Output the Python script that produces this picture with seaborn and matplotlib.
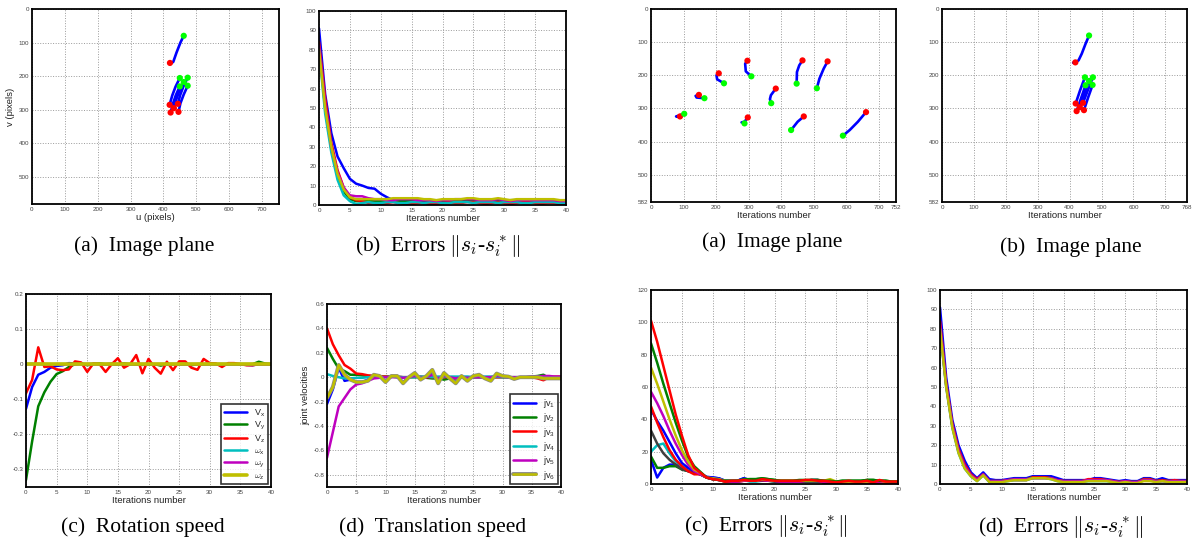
import matplotlib
matplotlib.use("Agg")
import matplotlib.pyplot as plt
import matplotlib.patheffects as pe
import seaborn as sns

sns.set_theme(style="whitegrid")
plt.rcParams["font.family"] = ["Liberation Sans", "DejaVu Sans"]
plt.rcParams["mathtext.fontset"] = "cm"

# MATLAB default line colours
C_B, C_G, C_R = "#0000ff", "#008000", "#ff0000"
C_C, C_M, C_Y, C_K = "#00bfbf", "#bf00bf", "#bfbf00", "#404040"

iters = list(range(41))

# ---- image plane, left experiment (u, v per feature) ----
a1_traj_u = [[462, 452, 440, 430, 422], [450, 437, 427, 419], [474, 461, 451, 444],
             [462, 449, 439, 432], [450, 438, 429, 422], [474, 462, 452, 446]]
a1_traj_v = [[80, 100, 130, 158, 162], [206, 232, 258, 286], [205, 231, 257, 283],
             [218, 244, 270, 296], [231, 257, 283, 309], [229, 255, 281, 307]]
a1_green_u = [462, 450, 474, 462, 450, 474]
a1_green_v = [80, 206, 205, 218, 231, 229]
a1_red_u = [420, 419, 444, 432, 422, 446]
a1_red_v = [161, 286, 283, 296, 309, 307]

# ---- errors (b), left experiment ----
eb_blue = [91, 57, 37, 25, 19, 13.5, 11, 10, 8.8, 8.4, 5.8, 4, 2.5, 2.5, 2.5, 2.5, 2.5, 2, 2, 2, 2,
           2, 2, 2.5, 2.5, 2.5, 2, 2, 2, 2.5, 2, 2, 2, 2, 2, 2, 2, 2, 1.5, 1.5, 1.5]
eb_green = [82, 50, 29, 15, 7, 3, 2, 2, 2, 2, 2, 2, 2.5, 2, 2, 2, 2, 2.5, 2, 1.5, 2,
            2, 2, 2, 2.5, 2.5, 2, 2, 2, 2, 2, 2.5, 2.5, 2.5, 2.5, 2, 2, 2, 2, 2, 2]
eb_red = [84, 55, 32, 18, 9, 4, 2.5, 2, 1, 1, 0.5, 1, 1.5, 1, 0.5, 0.5, 1, 1, 0.5, 0.5, 1,
          1.5, 1, 1, 1.5, 1.5, 1, 0.5, 1, 1.5, 1, 0.5, 1, 1.5, 1.5, 1, 0.5, 1, 1, 0.5, 0.5]
eb_cyan = [80, 47, 27, 13, 5, 2, 0.5, 1, 1.5, 1, 1, 1.5, 1.5, 1, 1, 1.5, 1.5, 1, 1.5, 1.5, 1,
           1, 1.5, 1.5, 1.5, 1, 1.5, 1.5, 1.5, 1, 1.5, 1.5, 1.5, 1, 1, 1.5, 1.5, 1.5, 1.5, 1, 1]
eb_mag = [82, 52, 30, 17, 9, 5, 4.5, 4.5, 3.5, 3, 3, 2.5, 2.5, 3, 3, 3, 2.5, 2.5, 2.5, 2, 2.5,
          2.5, 3, 3, 3, 3, 2.5, 2.5, 2.5, 3, 2.5, 2, 2.5, 2.5, 2.5, 2.5, 2.5, 2.5, 2.5, 2, 2]
eb_yellow = [80, 50, 30, 16, 8, 4, 3, 3, 3, 3, 3, 3, 3.5, 3.5, 3.5, 3.5, 3.5, 3, 3, 2.5, 3,
             3, 3, 3, 3.5, 3.5, 3, 3, 3, 3.5, 3, 2.5, 3, 3, 3, 3, 3, 3, 3, 2.5, 2.5]

# ---- rotation speed (c) ----
v_x = [-0.127, -0.065, -0.03, -0.022, -0.01, -0.005, -0.003, 0.003, 0.002, 0.001, 0.0, 0.001, 0.0, 0.0,
       0.001, 0.0, 0.0, 0.0, 0.0, 0.0, 0.0, 0.0, 0.0, 0.0, 0.0, 0.0, 0.0, 0.0, 0.0, 0.0, 0.0, 0.0,
       0.0, 0.0, 0.0, 0.0, -0.002, -0.003, 0.0, 0.0, 0.0]
v_y = [-0.33, -0.22, -0.12, -0.08, -0.05, -0.028, -0.02, -0.008, 0.0, 0.002, -0.003, 0.0, 0.002, 0.0,
       0.0, 0.0, 0.002, 0.0, 0.0, -0.002, 0.0, 0.0, -0.004, 0.0, 0.0, 0.0, 0.0, -0.003, 0.0, 0.0,
       0.002, 0.0, 0.0, 0.0, 0.0, 0.0, 0.0, 0.0, 0.007, 0.002, 0.0]
v_z = [-0.083, -0.045, 0.048, -0.008, -0.006, -0.015, -0.017, -0.015, 0.008, 0.005, -0.022, 0.002, 0.0,
       -0.022, 0.0, 0.017, -0.01, 0.0, 0.026, -0.026, 0.015, -0.01, -0.027, 0.007, -0.017, 0.008, 0.008,
       -0.01, -0.016, 0.015, 0.003, 0.002, -0.008, 0.003, 0.003, 0.0, -0.003, -0.003, 0.0, 0.0, 0.0]
w_x = [0.001, 0.001, 0.0, 0.0, 0.0, 0.0, 0.0, 0.0, 0.0, 0.0, 0.0, 0.0, 0.0, 0.0, 0.0, 0.0, 0.0, 0.0, 0.0,
       0.0, 0.0, 0.0, 0.0, 0.0, 0.0, 0.0, 0.0, 0.0, 0.0, 0.0, 0.0, 0.0, 0.0, 0.0, 0.0, 0.0, 0.0, 0.0,
       0.0, 0.0, 0.0]
w_y = [0.0, 0.0, 0.001, 0.0, 0.0, 0.0, 0.0, 0.0, 0.0, 0.0, 0.0, 0.0, 0.0, 0.0, 0.0, 0.0, 0.0, 0.0, 0.0,
       0.0, 0.0, 0.0, 0.0, 0.0, 0.0, 0.0, 0.0, 0.0, 0.0, 0.0, 0.0, 0.0, 0.0, 0.0, 0.0, 0.0, 0.0, 0.0,
       0.0, 0.0, 0.0]
w_z = [0.0, 0.0, 0.0, 0.0, 0.0, 0.0, 0.0, 0.0, 0.0, 0.0, 0.0, 0.0, 0.0, 0.0, 0.0, 0.0, 0.0, 0.0, 0.0,
       0.0, 0.0, 0.0, 0.0, 0.0, 0.0, 0.0, 0.0, 0.0, 0.0, 0.0, 0.0, 0.0, 0.0, 0.0, 0.0, 0.0, 0.0, 0.0,
       0.0, 0.0, 0.0]

# ---- joint velocities (d) ----
jv1 = [-0.22, -0.1, 0.08, -0.03, -0.02, -0.04, -0.04, -0.02, 0.015, 0.005, -0.03, 0.005, 0.005, -0.04,
       0.0, 0.025, -0.015, 0.005, 0.045, -0.04, 0.025, -0.005, -0.04, 0.005, -0.02, 0.005, 0.015, -0.005,
       -0.02, 0.02, 0.005, 0.005, -0.01, 0.0, 0.0, 0.0, 0.0, -0.005, -0.005, -0.005, -0.005]
jv2 = [0.24, 0.15, 0.07, 0.05, 0.02, 0.02, 0.015, 0.01, 0.01, 0.005, 0.005, 0.005, 0.0, 0.0, 0.0, 0.0,
       0.0, -0.005, -0.01, -0.01, -0.02, -0.01, -0.01, 0.0, 0.0, 0.0, 0.0, 0.0, 0.0, 0.0, 0.0, 0.0, 0.0,
       0.0, 0.0, 0.005, 0.01, 0.02, -0.01, -0.01, -0.01]
jv3 = [0.4, 0.27, 0.18, 0.1, 0.07, 0.03, 0.025, 0.015, 0.01, 0.005, 0.005, 0.005, 0.005, 0.0, 0.0, 0.005,
       0.005, 0.0, 0.0, 0.0, 0.0, 0.0, 0.0, 0.0, 0.0, 0.0, 0.0, 0.0, 0.0, 0.0, 0.0, 0.0, 0.0, 0.0, 0.0,
       0.0, -0.01, -0.025, 0.0, 0.005, 0.005]
jv4 = [0.025, 0.01, 0.0, -0.01, -0.01, -0.005, -0.005, 0.0, 0.0, 0.0, 0.0, 0.005, 0.005, 0.0, 0.0, 0.0,
       0.005, 0.005, 0.0, 0.005, 0.005, 0.005, 0.005, 0.005, 0.005, 0.0, 0.0, 0.005, 0.005, 0.005, 0.0,
       0.0, 0.0, 0.0, 0.0, 0.0, 0.0, 0.0, 0.0, 0.0, 0.0]
jv5 = [-0.66, -0.45, -0.24, -0.17, -0.1, -0.06, -0.05, -0.03, -0.01, -0.005, 0.0, 0.0, 0.0, -0.005, 0.0,
       0.01, -0.005, 0.0, 0.02, -0.01, 0.01, 0.0, -0.01, 0.0, -0.005, 0.0, 0.0, 0.0, 0.0, 0.01, 0.005,
       0.0, 0.0, 0.0, 0.0, 0.005, 0.005, 0.01, 0.01, 0.005, 0.005]
jv6 = [-0.17, -0.08, 0.1, 0.02, -0.02, -0.04, -0.04, -0.03, 0.02, 0.01, -0.04, 0.01, 0.01, -0.05, 0.0,
       0.035, -0.02, 0.01, 0.06, -0.05, 0.035, -0.01, -0.05, 0.01, -0.03, 0.01, 0.02, -0.01, -0.03, 0.03,
       0.01, 0.005, -0.015, 0.0, 0.0, 0.0, 0.0, -0.01, -0.01, -0.01, -0.01]

# ---- image plane, right experiment (a) ----
a3_traj_u = [[89, 82, 77, 90, 102], [147, 137, 140, 164], [208, 201, 203, 224], [296, 289, 291, 308],
             [383, 368, 365, 369], [297, 287, 278, 287], [465, 455, 448, 447], [542, 530, 517, 509],
             [469, 450, 430], [660, 635, 610, 589]]
a3_traj_v = [[324, 325, 324, 320, 316], [259, 262, 267, 269], [194, 200, 212, 224], [156, 165, 188, 203],
             [240, 260, 272, 284], [327, 335, 342, 345], [155, 170, 190, 225], [158, 180, 210, 239],
             [324, 340, 365], [311, 340, 365, 382]]
a3_red_u = [89, 147, 208, 296, 383, 297, 465, 542, 469, 660]
a3_red_v = [324, 259, 194, 156, 240, 327, 155, 158, 324, 311]
a3_green_u = [102, 164, 224, 308, 369, 287, 447, 509, 430, 589]
a3_green_v = [316, 269, 224, 203, 284, 345, 225, 239, 365, 382]

# ---- image plane, right experiment (b) ----
a4_traj_u = [[461, 450, 438, 428, 418, 411], [448, 433, 419], [473, 457, 442],
             [461, 446, 432, 433], [450, 436, 422], [472, 458, 445, 447]]
a4_traj_v = [[80, 105, 135, 155, 161, 162], [206, 245, 285], [206, 245, 283],
             [217, 256, 296, 299], [230, 269, 308], [229, 267, 305, 308]]
a4_green_u = [461, 448, 473, 461, 450, 472]
a4_green_v = [80, 206, 206, 217, 230, 229]
a4_red_u = [418, 419, 442, 432, 422, 445]
a4_red_v = [161, 285, 283, 296, 308, 305]

# ---- errors (c), right experiment ----
ec_blue2 = [15, 4, 10, 12, 12, 10, 8, 7, 6, 4, 4, 3.5, 2, 2, 2, 3.5, 2.5, 2.5, 3, 2.5, 2, 1.5, 1.5, 1.5,
            1.5, 2, 2.5, 2.5, 1, 0.5, 1, 1.5, 1.5, 1.5, 1.5, 1.5, 1.5, 1.5, 1.5, 1, 1]
ec_green2 = [17, 10, 10, 11, 11, 9, 8, 7, 6, 4, 3, 2.5, 1.5, 1.5, 2, 2.5, 3, 3, 3.5, 3, 2.5, 2, 2, 2, 2,
             2, 2.5, 2.5, 2, 2, 1.5, 2, 2, 2, 2, 2.5, 2.5, 2, 2, 1.5, 1.5]
ec_cyan = [20, 24, 25, 19, 14, 11, 9, 8, 6, 4, 3, 2.5, 1.5, 1.5, 1.5, 2.5, 1.5, 1.5, 2, 2, 1.5, 1.5, 1.5,
           1.5, 1.5, 1.5, 1.5, 1.5, 1, 1, 1, 1, 1, 1, 1, 1, 1, 1, 1, 1, 1]
ec_grey = [33, 25, 19, 15, 12, 9, 8, 7, 6, 4, 3, 2.5, 2, 1.5, 1.5, 2, 2, 2, 2, 2, 1.5, 1.5, 1.5, 1.5, 1.5,
           1.5, 1.5, 1.5, 1.5, 1, 1, 1, 1, 1, 1, 1, 1, 1, 1, 1, 1]
ec_blue1 = [46, 39, 33, 26, 19, 13, 10, 8, 6.5, 4.5, 4, 3.5, 2, 2, 2, 3.5, 2.5, 2.5, 3, 2.5, 2, 1.5, 1.5,
            1.5, 1.5, 2, 2, 2, 1, 1, 1.5, 1.5, 1.5, 1.5, 1.5, 1.5, 1.5, 1.5, 1.5, 1, 1]
ec_red2 = [48, 38, 29, 21, 15, 11, 8, 6, 6, 4, 3, 2.5, 1.5, 1.5, 1.5, 2, 2, 2, 2.5, 2, 2, 1.5, 1.5, 1.5,
           1.5, 2, 2, 2, 1, 1, 1, 1, 1, 1, 1, 1, 1, 1, 1, 1, 1]
ec_mag = [57, 50, 42, 33, 25, 18, 12, 8, 6, 4, 3, 2.5, 2, 1.5, 1.5, 2, 2, 2, 2.5, 2, 2, 1.5, 1.5, 1.5, 1.5,
          2, 2, 2, 1.5, 1.5, 1, 1.5, 1.5, 1.5, 1.5, 1.5, 1.5, 1.5, 1.5, 1, 1]
ec_yellow = [72, 62, 51, 40, 30, 21, 14, 9, 7, 4, 3.5, 3, 2, 2, 2, 2.5, 2.5, 2, 3, 2.5, 2, 2, 2, 2, 2, 2,
             2, 2, 2, 3, 1.5, 1.5, 1.5, 1.5, 1.5, 1.5, 2, 2, 1.5, 1.5, 1.5]
ec_green1 = [87, 75, 62, 50, 38, 27, 17, 11, 7.5, 4, 3, 2.5, 2, 2, 2, 3, 3, 3, 3.5, 3, 2.5, 2, 2, 2, 2.5,
             2.5, 2.5, 2.5, 2, 2, 1.5, 2, 2, 2, 2, 2.5, 2.5, 2, 2, 1.5, 1.5]
ec_red1 = [101, 88, 73, 58, 43, 30, 18, 10, 7, 4, 3, 2.5, 1.5, 2, 2, 2.5, 2, 2, 3, 2.5, 2, 2, 2, 2, 2,
           2.5, 2.5, 2, 2, 1.5, 1, 1.5, 2, 1.5, 1.5, 2, 1, 2.5, 1.5, 1.5, 1.5]

# ---- errors (d), right experiment ----
ed_blue = [91, 55, 33, 20, 12, 6, 3, 6, 2.5, 2, 2, 2.5, 3, 3, 3, 4, 4, 4, 4, 3, 2, 2, 2, 2, 2, 3, 3, 2.5,
           2, 1.5, 2, 1.5, 1.5, 3, 3, 2, 3, 2, 2, 2, 2]
ed_green = [81, 51, 30, 17, 9, 4.5, 2, 5, 1.5, 1.5, 1.5, 2, 2.5, 2.5, 2.5, 3.5, 3.5, 3.5, 3, 2, 1.5, 1.5,
            1.5, 1.5, 2, 2, 2, 2, 1.5, 1, 1.5, 1, 1, 2.5, 2.5, 1.5, 2, 1.5, 1.5, 1.5, 1.5]
ed_red = [84, 52, 31, 18, 10, 5, 2.5, 5, 1.5, 1.5, 1.5, 2, 2, 2, 2, 3.5, 3.5, 3.5, 3, 2, 1.5, 1.5, 1.5,
          1.5, 2.5, 2.5, 2.5, 2, 1.5, 1, 1.5, 1, 1, 2.5, 2.5, 1.5, 2, 1.5, 2, 1.5, 1.5]
ed_cyan = [80, 50, 29, 16, 8, 4, 1.5, 4.5, 1, 1, 1, 1.5, 2, 2, 2, 3, 3, 3, 2.5, 1.5, 1, 1, 1, 1, 1.5, 1.5,
           1.5, 1.5, 1, 0.5, 1, 0.5, 0.5, 2, 2, 1, 1.5, 1, 1, 1, 1]
ed_mag = [82, 51, 30, 17, 9, 4.5, 2, 5, 1.5, 1.5, 1.5, 2, 2.5, 2.5, 2.5, 3, 3, 3, 3, 2, 1.5, 1.5, 1.5, 1.5,
          2, 2, 2, 2, 1.5, 1, 1.5, 1, 1, 2, 2, 1.5, 1.5, 1.5, 1.5, 1.5, 1.5]
ed_yellow = [80, 50, 29, 16, 8, 4, 1.5, 4.5, 1, 1, 1, 1.5, 2, 2, 2, 3, 3, 3, 2.5, 1.5, 1, 1, 1, 1, 1.5,
             1.5, 1.5, 1.5, 1, 0.5, 1, 0.5, 0.5, 1.5, 1.5, 1, 1.5, 1, 1, 1, 1]

W, H = 1192, 545
fig = plt.figure(figsize=(W / 100, H / 100), dpi=100)


def make_ax(l, t, r, b):
    ax = fig.add_axes([l / W, 1 - b / H, (r - l) / W, (b - t) / H])
    ax.set_facecolor("white")
    ax.grid(True, linestyle=":", color="#9a9a9a", linewidth=0.7)
    for s in ax.spines.values():
        s.set_color("black")
        s.set_linewidth(1.3)
    ax.tick_params(direction="in", length=2.5, width=0.6, labelsize=4.5,
                   pad=2, colors="black")
    ax.tick_params(labelcolor="#444444")
    return ax


def image_plane(ax, tu, tv, gu, gv, ru, rv, xmax, xticks, yticks):
    for u, v in zip(tu, tv):
        sns.lineplot(x=u, y=v, ax=ax, color=C_B, linewidth=1.9, sort=False, legend=False)
    sns.scatterplot(x=ru, y=rv, ax=ax, color="#ff0000", s=20, edgecolor="none", zorder=5)
    sns.scatterplot(x=gu, y=gv, ax=ax, color="#00ff00", s=20, edgecolor="none", zorder=5)
    ax.set_xlim(0, xmax)
    ax.set_ylim(582, 0)
    ax.set_xticks(xticks)
    ax.set_yticks(yticks)


def err_plot(ax, series, ymax, ystep):
    for vals, col in series:
        sns.lineplot(x=iters, y=vals, ax=ax, color=col, linewidth=1.8, legend=False)
    ax.set_xlim(0, 40)
    ax.set_ylim(0, ymax)
    ax.set_xticks(range(0, 41, 5))
    ax.set_yticks(range(0, ymax + 1, ystep))


def xlab(ax, text="Iterations number"):
    ax.set_xlabel(text, fontsize=6.8, labelpad=1, color="#222222")


def box_legend(ax):
    leg = ax.legend(loc="lower right", fontsize=6.5, frameon=True, fancybox=False,
                    borderpad=0.3, labelspacing=0.15, handlelength=2.6, borderaxespad=0.3)
    leg.get_frame().set_edgecolor("black")
    leg.get_frame().set_linewidth(1.2)


# (a) image plane left
ax = make_ax(32, 9, 279, 204)
image_plane(ax, a1_traj_u, a1_traj_v, a1_green_u, a1_green_v, a1_red_u, a1_red_v,
            752, range(0, 701, 100), range(0, 501, 100))
xlab(ax, "u (pixels)")
ax.set_ylabel("v (pixels)", fontsize=6.8, labelpad=3, color="#222222")

# (b) errors left
ax = make_ax(319, 11, 566, 205)
err_plot(ax, [(eb_blue, C_B), (eb_green, C_G), (eb_red, C_R), (eb_cyan, C_C),
              (eb_mag, C_M), (eb_yellow, C_Y)], 100, 10)
xlab(ax)

# (a) image plane right
ax = make_ax(651, 9, 896, 202)
image_plane(ax, a3_traj_u, a3_traj_v, a3_green_u, a3_green_v, a3_red_u, a3_red_v,
            752, list(range(0, 701, 100)) + [752], list(range(0, 501, 100)) + [582])
xlab(ax)

# (b) image plane right
ax = make_ax(942, 9, 1187, 202)
image_plane(ax, a4_traj_u, a4_traj_v, a4_green_u, a4_green_v, a4_red_u, a4_red_v,
            768, list(range(0, 701, 100)) + [768], list(range(0, 501, 100)) + [582])
xlab(ax)

# (c) rotation speed
ax = make_ax(26, 294, 271, 487)
rot = [(v_x, C_B, r"$\mathregular{V_x}$"), (v_y, C_G, r"$\mathregular{V_y}$"),
       (v_z, C_R, r"$\mathregular{V_z}$"), (w_x, C_C, r"$\omega_\mathregular{x}$"),
       (w_y, C_M, r"$\omega_\mathregular{y}$"), (w_z, C_Y, r"$\omega_\mathregular{z}$")]
for vals, col, lab in rot:
    lw = 2.6 if col == C_Y else 1.8
    sns.lineplot(x=iters, y=vals, ax=ax, color=col, linewidth=lw, label=lab)
ax.set_xlim(0, 40)
ax.set_ylim(-0.35, 0.2)
ax.set_xticks(range(0, 41, 5))
ax.set_yticks([-0.3, -0.2, -0.1, 0, 0.1, 0.2], ["-0.3", "-0.2", "-0.1", "0", "0.1", "0.2"])
box_legend(ax)
xlab(ax)

# (d) translation speed
ax = make_ax(327, 304, 561, 487)
jv = [(jv1, C_B, r"jv$\mathregular{_1}$"), (jv2, C_G, r"jv$\mathregular{_2}$"),
      (jv3, C_R, r"jv$\mathregular{_3}$"), (jv4, C_C, r"jv$\mathregular{_4}$"),
      (jv5, C_M, r"jv$\mathregular{_5}$"), (jv6, C_Y, r"jv$\mathregular{_6}$")]
for vals, col, lab in jv:
    sns.lineplot(x=iters, y=vals, ax=ax, color=col, linewidth=1.8, label=lab)
ax.lines[-1].set_path_effects([pe.Stroke(linewidth=2.8, foreground="#8a8a8a"), pe.Normal()])
ax.set_xlim(0, 40)
ax.set_ylim(-0.9, 0.6)
ax.set_xticks(range(0, 41, 5))
ax.set_yticks([-0.8, -0.6, -0.4, -0.2, 0, 0.2, 0.4, 0.6],
              ["-0.8", "-0.6", "-0.4", "-0.2", "0", "0.2", "0.4", "0.6"])
box_legend(ax)
xlab(ax)
ax.set_ylabel("joint velocities", fontsize=6.8, labelpad=2, color="#222222")

# (c) errors right
ax = make_ax(651, 290, 898, 484)
err_plot(ax, [(ec_blue2, C_B), (ec_green2, C_G), (ec_cyan, C_C), (ec_grey, C_K),
              (ec_blue1, C_B), (ec_red2, C_R), (ec_mag, C_M), (ec_yellow, C_Y),
              (ec_green1, C_G), (ec_red1, C_R)], 120, 20)
xlab(ax)

# (d) errors right
ax = make_ax(940, 290, 1187, 484)
err_plot(ax, [(ed_blue, C_B), (ed_green, C_G), (ed_red, C_R), (ed_cyan, C_C),
              (ed_mag, C_M), (ed_yellow, C_Y)], 100, 10)
xlab(ax)

# captions
err_cap = r"Errors $\Vert s_i$-$s_i^*\Vert$"
captions = [(144, 246, "(a)  Image plane"), (438, 247, "(b)  " + err_cap),
            (772, 242, "(a)  Image plane"), (1071, 247, "(b)  Image plane"),
            (143, 527, "(c)  Rotation speed"), (433, 527, "(d)  Translation speed"),
            (766, 527, "(c)  " + err_cap), (1061, 528, "(d)  " + err_cap)]
for x, y, t in captions:
    fig.text(x / W, 1 - y / H, t, ha="center", va="center", fontsize=15.5,
             family=["Liberation Serif", "DejaVu Serif"], color="black")

fig.savefig("out.png", dpi=100, facecolor="white")
